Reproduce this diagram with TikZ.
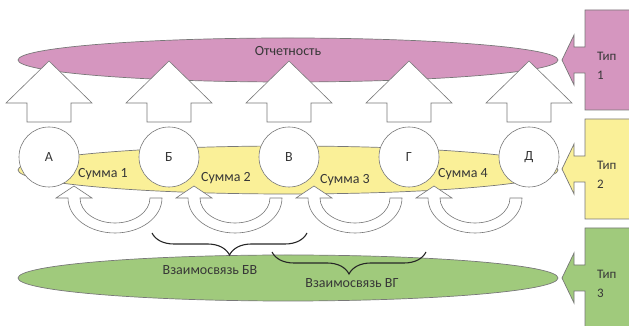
\documentclass[tikz,border=0pt]{standalone}
\usepackage{fontspec}
\setmainfont{Carlito}
\usetikzlibrary{decorations.pathreplacing}
\definecolor{tippink}{RGB}{213,150,191}
\definecolor{tipyellow}{RGB}{250,240,152}
\definecolor{tipgreen}{RGB}{160,202,124}
\definecolor{edgegray}{RGB}{120,120,120}
\definecolor{txtgray}{RGB}{55,55,55}

\begin{document}
\begin{tikzpicture}[x=1pt,y=1pt,
    band/.style={draw=edgegray,line width=0.7pt},
    hollow/.style={draw=edgegray,fill=white,line width=0.6pt},
    lbl/.style={text=txtgray,font=\fontsize{14}{16}\selectfont,inner sep=1pt},
    bracket/.style={decorate,decoration={brace,mirror,amplitude=22pt},line width=1.1pt,black!85}]
            \useasboundingbox (0,0) rectangle (629,326);
            % level 1
            \draw[band,fill=tippink] (288,266) ellipse [x radius=270,y radius=22];
            \node[lbl] (otchet) at (288,275) {Отчетность};
            \foreach \i in {0,...,4}{
              \draw[hollow] ({49+120*\i-22},204) -- ++(0,19) -- ++(-21,0) -- ({49+120*\i},265)
                -- ({49+120*\i+43},223) -- ++(-21,0) -- ({49+120*\i+22},204) -- cycle;
            }
            % level 2
            \draw[band,fill=tipyellow] (288,156) ellipse [x radius=270,y radius=24];
            \foreach \l [count=\i from 0] in {А,Б,В,Г,Д}{
              \node[hollow,circle,minimum size=60pt,lbl] (c\i) at ({49+120*\i},169) {\l};
            }
            \node[lbl] (s1) at (103,152) {Сумма 1};
            \node[lbl] (s2) at (226,148) {Сумма 2};
            \node[lbl] (s3) at (345,146) {Сумма 3};
            \node[lbl] (s4) at (463,152) {Сумма 4};
            \foreach \i in {0,...,3}{
              \draw[hollow] ({115+120*\i-35},128) arc[start angle=180,end angle=360,x radius=35,y radius=25]
                -- ({115+120*\i+47},128) arc[start angle=0,end angle=-180,x radius=47,y radius=35]
                -- ++(-12,0) -- ++(18,12) -- ++(18,-12) -- cycle;
            }
            % level 3
            \draw[band,fill=tipgreen] (288,48) ellipse [x radius=270,y radius=23];
            \coordinate (b1a) at (152,93);
            \coordinate (b1b) at (307,93);
            \coordinate (b2a) at (272,74);
            \coordinate (b2b) at (426,74);
            \draw[bracket] (b1a) -- (b1b);
            \draw[bracket] (b2a) -- (b2b);
            \node[lbl] (bv) at (210,56) {Взаимосвязь БВ};
            \node[lbl] (vg) at (352,43) {Взаимосвязь ВГ};
            % types
            \foreach \y/\c/\n in {266/tippink/1,157/tipyellow/2,48/tipgreen/3}{
              \draw[band,fill=\c] (640,\y+50) -- (585,\y+50) -- (585,\y+13) -- (574,\y+13) -- (574,\y+25)
                -- (562,\y) -- (574,\y-25) -- (574,\y-13) -- (585,\y-13) -- (585,\y-50) -- (640,\y-50) -- cycle;
              \node[lbl,font=\fontsize{13}{15}\selectfont,anchor=west,align=left] (tip\n) at (596,\y-6) {Тип\\[4pt]\n};
            }
          \end{tikzpicture}
\end{document}
